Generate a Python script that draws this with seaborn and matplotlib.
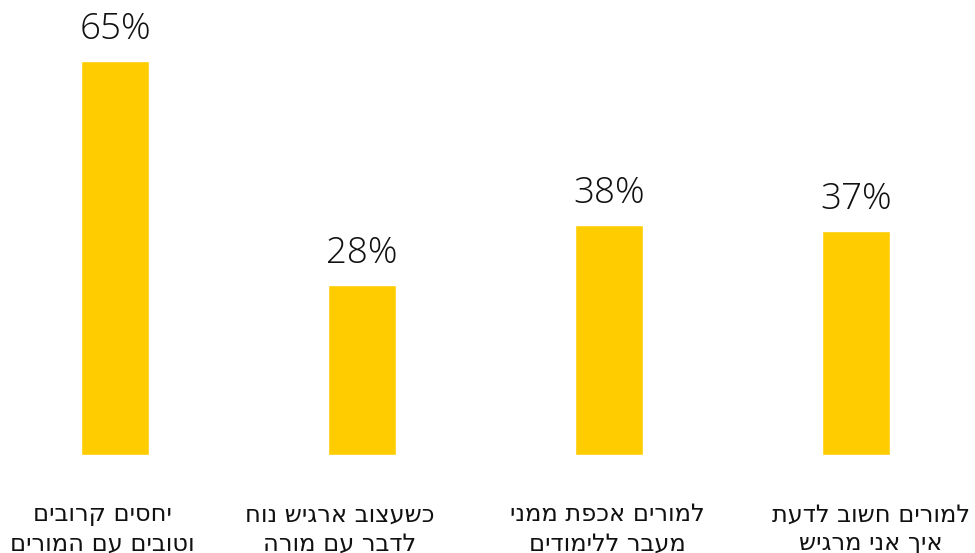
import matplotlib
matplotlib.use('Agg')
import matplotlib.pyplot as plt
import pandas as pd
import seaborn as sns

sns.set_style('white')
plt.rcParams['font.family'] = ['Open Sans', 'DejaVu Sans']

# Hebrew labels (logical order), two lines each
labels = [
    ['יחסים קרובים', 'וטובים עם המורים'],
    ['כשעצוב ארגיש נוח', 'לדבר עם מורה'],
    ['למורים אכפת ממני', 'מעבר ללימודים'],
    ['למורים חשוב לדעת', 'איך אני מרגיש'],
]
values = [65, 28, 38, 37]

# small horizontal nudges of the category labels (points)
label_dx = [-9, -16, -1, 11]


def rtl(lines):
    # matplotlib has no bidi support, so reverse for visual order
    return '\n'.join(line[::-1] for line in lines)


df = pd.DataFrame({'label': [rtl(l) for l in labels], 'value': values})

fig = plt.figure(figsize=(9.75, 5.53), dpi=100)
ax = fig.add_axes([0, 0.1772, 1, 0.8228])

sns.barplot(data=df, x='label', y='value', color='#FFCC00', width=0.275,
            saturation=1, ax=ax)

ax.set_xlim(-0.466, 3.482)
ax.set_ylim(0, 75.1)

ax.bar_label(ax.containers[0], labels=[f'{v}%' for v in values],
             padding=9.5, fontsize=26.5, fontweight='light', color='#111111')

for i, txt in enumerate(df['label']):
    ax.annotate(txt, xy=(i, 0), xytext=(label_dx[i], -34),
                textcoords='offset points', ha='center', va='top',
                fontsize=17.4, family=['DejaVu Sans'], color='#111111',
                linespacing=1.27, annotation_clip=False)

ax.set_xlabel('')
ax.set_ylabel('')
ax.set_xticks([])
ax.set_yticks([])
sns.despine(left=True, bottom=True)

fig.savefig('out.png', dpi=100)
